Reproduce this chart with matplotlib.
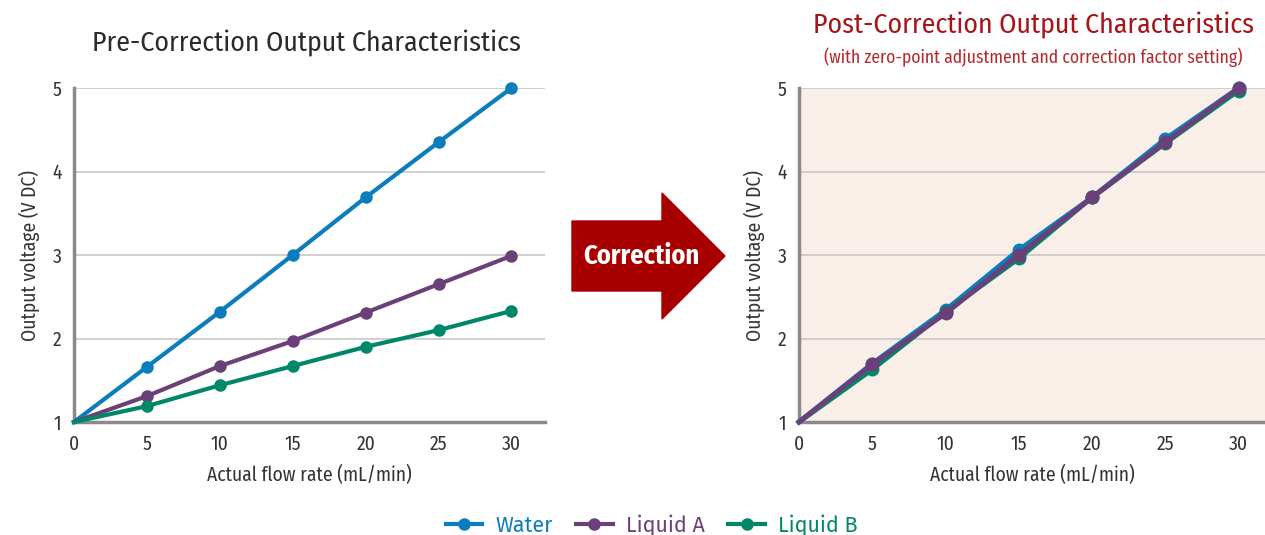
import matplotlib.pyplot as plt
from matplotlib.patches import FancyArrow

plt.rcParams['font.family'] = ['Fira Sans Condensed', 'DejaVu Sans']

# data
flow = [0, 5, 10, 15, 20, 25, 30]
pre_water = [1.0, 1.66, 2.32, 3.0, 3.69, 4.35, 5.0]
pre_liquid_a = [1.0, 1.31, 1.67, 1.97, 2.31, 2.65, 2.99]
pre_liquid_b = [1.0, 1.19, 1.44, 1.67, 1.90, 2.10, 2.33]
post_water = [1.0, 1.70, 2.34, 3.06, 3.69, 4.39, 5.0]
post_liquid_a = [1.0, 1.69, 2.30, 3.00, 3.69, 4.35, 5.0]
post_liquid_b = [1.0, 1.63, 2.32, 2.96, 3.69, 4.34, 4.97]
series_names = ['Water', 'Liquid A', 'Liquid B']
colors = ['#0b7dbd', '#6b4079', '#00876a']
x_ticks = [0, 5, 10, 15, 20, 25, 30]
y_ticks = [1, 2, 3, 4, 5]

fig = plt.figure(figsize=(12.65, 5.35), dpi=100)
ax1 = fig.add_axes([0.0585, 0.2112, 0.3723, 0.6243])
ax2 = fig.add_axes([0.6316, 0.2112, 0.3684, 0.6243])


def style_axes(ax, xmax, bg):
    ax.set_facecolor(bg)
    ax.set_xlim(0, xmax)
    ax.set_ylim(1, 5)
    ax.set_xticks(x_ticks)
    ax.set_yticks(y_ticks)
    ax.grid(axis='y', color='#c8c8c8', linewidth=1.2)
    ax.set_axisbelow(True)
    for s in ['top', 'right']:
        ax.spines[s].set_visible(False)
    for s in ['left', 'bottom']:
        ax.spines[s].set_color('#8a8a8a')
        ax.spines[s].set_linewidth(2.5)
    ax.tick_params(length=0, labelsize=14, colors='#333333', pad=9)
    ax.set_xlabel('Actual flow rate (mL/min)', fontsize=14, color='#333333', labelpad=8)
    ax.set_ylabel('Output voltage (V DC)', fontsize=14, color='#333333', labelpad=9)


style_axes(ax1, 32.3, 'white')
style_axes(ax2, 31.8, '#f9eee8')

lines = []
for vals, c, name in zip([pre_water, pre_liquid_a, pre_liquid_b], colors, series_names):
    ln, = ax1.plot(flow, vals, color=c, lw=3, marker='o', ms=8, markevery=range(1, len(flow)),
                   label=name, clip_on=False, zorder=3)
    lines.append(ln)

# drawing order on the right: water, liquid B, liquid A on top
post = [post_water, post_liquid_b, post_liquid_a]
post_cols = [colors[0], colors[2], colors[1]]
for vals, c in zip(post, post_cols):
    ax2.plot(flow, vals, color=c, lw=3.5, marker='o', ms=9, markevery=range(1, len(flow)),
             clip_on=False, zorder=3)

fig.text(0.242, 0.918, 'Pre-Correction Output Characteristics', ha='center', va='center',
         fontsize=20, color='#2b2b2b')
fig.text(0.817, 0.953, 'Post-Correction Output Characteristics', ha='center', va='center',
         fontsize=20, color='#a8141a')
fig.text(0.817, 0.893, '(with zero-point adjustment and correction factor setting)', ha='center',
         va='center', fontsize=12.7, color='#b52a2e')

# correction arrow
fig.patches.append(FancyArrow(572 / 1265, 1 - 256 / 535, 90 / 1265, 0, width=70 / 535,
                              head_width=126 / 535, head_length=63 / 1265,
                              length_includes_head=False, color='#a80000',
                              transform=fig.transFigure, figure=fig))
fig.text(641 / 1265, 1 - 256 / 535, 'Correction', ha='center', va='center', fontsize=19,
         fontweight='bold', color='white')

leg = fig.legend(handles=lines, loc='center', bbox_to_anchor=(0.515, 0.018), ncol=3, frameon=False,
                 prop={'family': 'Fira Sans', 'size': 15.5}, handlelength=1.7, columnspacing=1.1,
                 handletextpad=0.6)
for t, c in zip(leg.get_texts(), colors):
    t.set_color(c)

fig.savefig('out.png', dpi=100)
